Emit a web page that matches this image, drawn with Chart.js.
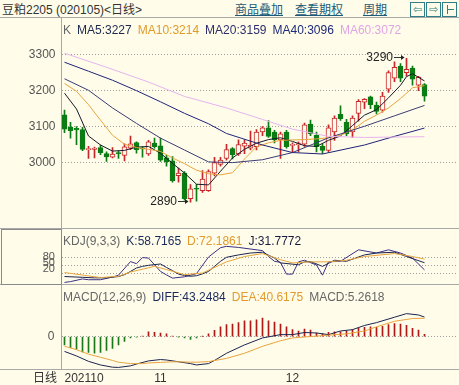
<!DOCTYPE html>
<html>
<head>
<meta charset="utf-8">
<script src="https://cdn.jsdelivr.net/npm/chart.js@4.4.1/dist/chart.umd.min.js"></script>
<style>
    html, body { margin: 0; padding: 0; }
    body {
        width: 459px; height: 385px; position: relative; overflow: hidden;
        background: #fffdea; color: #333;
        font-family: "Liberation Sans", Arial, "Noto Sans CJK SC", sans-serif; font-size: 12px;
    }
    .pane { position: absolute; left: 0; width: 459px; }
    .hl { position: absolute; left: 0; width: 459px; height: 1px; background: #a8a8a8; }
    .vl { position: absolute; width: 1px; background: #a8a8a8; }
    .txt { position: absolute; white-space: nowrap; line-height: 14px; }
    .leg span { margin-right: 6px; }
    .lnk { position: absolute; top: 3px; color: #1d5b78; text-decoration: underline; line-height: 14px; }
    .ico { position: absolute; top: 2px; width: 13px; height: 13px; border: 1px solid #2f7f86; color: #2f7f86;
           font: 11px "DejaVu Sans", sans-serif; line-height: 13px; text-align: center; overflow: hidden; }
</style>
</head>
<body>

<!-- barra de título -->
<div class="txt" style="left:2px; top:3px;">豆粕2205 (020105)&lt;日线&gt;</div>
<div class="lnk" style="left:235px;">商品叠加</div>
<div class="lnk" style="left:295px;">查看期权</div>
<div class="lnk" style="left:363px;">周期</div>
<div class="ico" style="left:410px;">⇦</div>
<div class="ico" style="left:426px;">⇨</div>
<div class="ico" style="left:442px;"><div style="position:absolute;left:4px;top:2px;width:1px;height:9px;background:#2f7f86"></div><div style="position:absolute;left:5px;top:6px;width:6px;height:1px;background:#2f7f86"></div></div>

<!-- paneles -->
<div class="pane" style="top:17px; height:211px;"><canvas id="cMain"></canvas></div>
<div class="pane" style="top:229px; height:55px;"><canvas id="cKdj"></canvas></div>
<div class="pane" style="top:285px; height:100px;"><canvas id="cMacd"></canvas></div>

<!-- marcos -->
<div class="hl" style="top:17px;"></div>
<div class="hl" style="top:228px;"></div>
<div class="hl" style="top:284px;"></div>
<div class="hl" style="top:369px;"></div>
<div class="vl" style="left:61px; top:17px; height:352px;"></div>
<div style="position:absolute; left:1px; top:229px; width:59px; height:54px; border:1px solid #8a8a8a;"></div>

<!-- leyendas -->
<div class="txt leg" style="left:63px; top:23px;">
    <span style="color:#666">K</span><span style="color:#1b2a4e">MA5:3227</span><span style="color:#e39a2c">MA10:3214</span><span style="color:#2e2e6e">MA20:3159</span><span style="color:#1f2a7a">MA40:3096</span><span style="color:#e0a4e6">MA60:3072</span>
</div>
<div class="txt leg" style="left:63px; top:234px;">
    <span style="color:#666">KDJ(9,3,3)</span><span style="color:#1b2a5e">K:58.7165</span><span style="color:#e39a2c">D:72.1861</span><span style="color:#1a1a40">J:31.7772</span>
</div>
<div class="txt leg" style="left:63px; top:290px;">
    <span style="color:#666">MACD(12,26,9)</span><span style="color:#1b2a5e">DIFF:43.2484</span><span style="color:#e39a2c">DEA:40.6175</span><span style="color:#666">MACD:5.2618</span>
</div>
<div class="txt" style="right:404px; top:249px; color:#555; font-size:11px;">80</div>
<div class="txt" style="right:404px; top:255px; color:#555; font-size:11px;">50</div>
<div class="txt" style="right:404px; top:261px; color:#555; font-size:11px;">20</div>
<div class="txt" style="left:33px; top:371px; color:#333;">日线</div>

<script>
// ─────────────────────────────────────────────
//  Datos (m2205, diario)
// ─────────────────────────────────────────────
const dates = [
    '2021-10-08','2021-10-11','2021-10-12','2021-10-13','2021-10-14','2021-10-15','2021-10-18','2021-10-19',
    '2021-10-20','2021-10-21','2021-10-22','2021-10-25','2021-10-26','2021-10-27','2021-10-28','2021-10-29',
    '2021-11-01','2021-11-02','2021-11-03','2021-11-04','2021-11-05','2021-11-08','2021-11-09','2021-11-10',
    '2021-11-11','2021-11-12','2021-11-15','2021-11-16','2021-11-17','2021-11-18','2021-11-19','2021-11-22',
    '2021-11-23','2021-11-24','2021-11-25','2021-11-26','2021-11-29','2021-11-30','2021-12-01','2021-12-02',
    '2021-12-03','2021-12-06','2021-12-07','2021-12-08','2021-12-09','2021-12-10','2021-12-13','2021-12-14',
    '2021-12-15','2021-12-16','2021-12-17','2021-12-20','2021-12-21','2021-12-22','2021-12-23','2021-12-24',
    '2021-12-27','2021-12-28','2021-12-29','2021-12-30','2021-12-31'
];
const emptySlots = 5;   // espacio libre a la derecha

const open  = [3133,3099,3095,3092,3036,3037,3042,3025,3015,3027,3020,3040,3056,3040,3024,3054,
               3047,3013,3005,2964,2971,2900,2928,2922,2922,2971,2995,3012,3039,3024,3046,3040,
               3044,3085,3097,3085,3063,3085,3048,3050,3051,3107,3076,3046,3034,3085,3134,3112,
               3085,3137,3168,3183,3160,3146,3204,3235,3268,3250,3263,3215,3217];
const high  = [3146,3112,3100,3098,3045,3043,3049,3030,3042,3032,3052,3074,3058,3044,3062,3068,
               3068,3020,3017,2985,2975,2939,2940,2978,2980,3015,3015,3051,3042,3063,3063,3088,
               3092,3100,3117,3090,3085,3090,3055,3058,3110,3118,3085,3052,3105,3130,3158,3120,
               3130,3175,3178,3185,3168,3195,3255,3280,3275,3290,3268,3240,3220];
const low   = [3083,3068,3050,3033,3012,3013,3022,3003,3013,3012,3005,3036,3026,3015,3020,3040,
               3003,2990,2946,2946,2896,2890,2893,2917,2920,2963,2990,3007,3010,3020,3025,3035,
               3035,3075,3070,3055,3012,3040,3030,3030,3045,3075,3030,3025,3030,3062,3117,3075,
               3070,3115,3150,3150,3135,3140,3195,3225,3225,3240,3215,3200,3171];
const close = [3093,3089,3091,3037,3039,3040,3028,3016,3024,3025,3044,3052,3036,3038,3058,3044,
               3007,3002,2950,2971,2900,2927,2926,2954,2975,3000,3007,3036,3022,3050,3054,3049,
               3085,3097,3073,3063,3080,3044,3050,3052,3105,3080,3044,3034,3097,3124,3122,3080,
               3124,3170,3176,3161,3142,3185,3250,3265,3235,3259,3232,3237,3185];

// medias móviles: [índice de vela, valor]
const ma5Pts  = [[0,3193],[2,3149],[4,3074],[6,3049],[8,3032],[10,3034],[12,3043],[14,3045],[16,3026],
                 [18,2998],[20,2971],[22,2940],[24,2938],[26,2976],[28,3013],[30,3037],[32,3054],[34,3064],
                 [36,3069],[38,3059],[40,3047],[42,3045],[44,3062],[46,3074],[48,3103],[50,3132],[52,3147],
                 [54,3180],[56,3215],[57,3239],[58,3247],[60,3227]];
const ma10Pts = [[0,3220],[2,3198],[4,3161],[6,3118],[8,3076],[10,3051],[12,3042],[14,3037],[16,3031],
                 [18,3013],[20,2997],[22,2979],[24,2969],[26,2966],[28,2972],[30,3010],[32,3044],[34,3055],
                 [36,3062],[38,3063],[40,3064],[42,3066],[44,3069],[46,3076],[48,3091],[50,3115],[52,3132],
                 [54,3152],[56,3178],[58,3208],[60,3214]];
const ma20Pts = [[0,3233],[4,3201],[8,3152],[12,3109],[16,3068],[20,3035],[24,3002],[28,3000],[33,3008],
                 [38,3028],[44,3069],[50,3101],[55,3130],[60,3159]];
const ma40Pts = [[0,3279],[4,3254],[8,3229],[12,3200],[16,3169],[20,3137],[24,3108],[27,3081],[33,3049],
                 [38,3028],[43,3024],[50,3049],[55,3073],[60,3096]];
const ma60Pts = [[0,3304],[7,3265],[14,3224],[20,3184],[27,3152],[33,3120],[38,3093],[44,3073],[50,3070],
                 [60,3072]];

// KDJ(9,3,3)
const kPts = [[0,7],[3,4],[5,2],[7,2],[9,7],[10,14],[11,26],[12,39],[13,45],[14,49],[16,54],[17,41],[18,29],
              [19,16],[20,11],[21,8],[22,10],[23,17],[24,26],[25,45],[26,64],[27,79],[29,88],[31,95],[33,98],
              [35,76],[36,58],[39,51],[40,62],[41,63],[43,45],[45,68],[47,64],[50,88],[52,95],[55,98],[57,82],
              [60,58.7]];
const dPts = [[0,22],[6,3],[9,8],[11,24],[15,45],[17,33],[20,14],[23,20],[27,62],[30,82],[33,93],[36,70],
              [38,58],[41,62],[44,62],[47,68],[50,82],[55,93],[58,82],[60,72.2]];
const jPts = [[0,-15],[1,-12],[3,-2],[4,-5],[6,-5],[8,5],[9,12],[11,63],[12,55],[13,78],[14,76],[16,26],
              [17,13],[18,1],[20,6],[22,18],[24,80],[26,115],[27,120],[29,116],[33,104],[34,82],[35,64],
              [36,60],[37,16],[38,16],[39,62],[40,68],[42,50],[43,12],[44,62],[46,64],[49,107],[52,95],
              [54,107],[56,95],[58,76],[60,31.8]];

// MACD(12,26,9)
const diffPts = [[0,-33],[2,-43],[4,-55],[6,-63],[8,-68],[9,-68.5],[11,-65],[12,-61],[14,-54],[16,-51],
                 [17,-52],[19,-56],[21,-60],[22,-63],[24,-60],[25,-53],[27,-37],[30,-18.5],[33,-3],[36,4.3],
                 [38,4.3],[40,9],[42,8],[44,4.3],[46,12.4],[48,15.4],[50,24.7],[52,31],[55,43],[57,51],
                 [59,48],[60,43.25]];
const deaPts  = [[0,-21.6],[2,-29],[4,-39],[6,-46],[8,-53],[9,-57],[11,-60],[13,-60],[14,-58.6],[16,-57.4],
                 [18,-56],[19,-56],[21,-56.7],[22,-57],[24,-55.5],[27,-48.5],[30,-37],[33,-21.6],[36,-9.3],
                 [38,-3],[41,0],[44,3.1],[47,6.2],[50,12.4],[52,21.6],[55,34],[58,40.1],[60,40.6]];
const macdBar = [-18.5,-24.7,-27.8,-34,-35,-37,-35,-31,-26.5,-18.5,-10.5,-3,-1,1,
                 10.5,9.3,8,6.2,1.2,-0.5,-3,-6.2,-3,0.5,6.2,14,21.6,26.5,
                 27.8,30.9,35,35,37,41,35,32,27.8,21.6,15.4,12.4,16.7,14.2,8,6.2,9.3,10.5,10.5,
                 12.4,15.4,18.5,20.4,21.6,20.4,22.8,26.5,29,27.8,24.7,18.5,14.2,5.26];

// ejes
const priceTicks    = [3000, 3100, 3200, 3300];
const kdjTicks      = [20, 50, 80];
const macdTicks     = [0];
const monthTickIdx  = [0, 16, 38];
const monthTickText = ['202110', '11', '12'];

// ─────────────────────────────────────────────
//  Estilos
// ─────────────────────────────────────────────
const BG = '#fffdea';
const UP = '#c8262a';
const DOWN = '#0b7d14';
const GRID = '#a0a0a0';
const FONT = '"Liberation Sans", Arial, sans-serif';

Chart.defaults.font.family = FONT;
Chart.defaults.font.size = 12;
Chart.defaults.animation = false;

const slots = dates.concat(Array(emptySlots).fill(''));
const isUp = close.map((c, i) => c >= open[i]);
const GUTTER = 61.5;
const fixGutter = s => { s.width = GUTTER; };
const setTicks = vals => s => { s.ticks = vals.map(v => ({ value: v })); };

function fromPairs(pairs) {
    const arr = new Array(dates.length).fill(null);
    pairs.forEach(([i, v]) => { arr[i] = v; });
    return arr;
}

function lineSet(pairs, color) {
    return {
        type: 'line', data: fromPairs(pairs), borderColor: color, borderWidth: 1,
        pointRadius: 0, tension: 0, spanGaps: true, order: 0
    };
}

function baseOptions(yMin, yMax, ticks, showLabels) {
    return {
        responsive: true, maintainAspectRatio: false,
        layout: { padding: { left: 0, right: 1.5, top: 0, bottom: 0 } },
        plugins: { legend: { display: false }, tooltip: { enabled: false } },
        scales: {
            x: { display: false, offset: true, grid: { display: false } },
            y: {
                min: yMin, max: yMax, afterFit: fixGutter, afterBuildTicks: setTicks(ticks),
                ticks: { display: showLabels, color: '#555', padding: 6, font: { size: 12 }, callback: v => String(v) },
                grid: { color: GRID, drawTicks: false },
                border: { display: false, dash: [1, 2] }
            }
        }
    };
}

// marca de máximo / mínimo con flecha
const extremos = {
    id: 'extremos',
    afterDatasetsDraw(chart) {
        const { ctx, scales: { x, y } } = chart;
        const iHi = high.indexOf(Math.max(...high));
        const iLo = low.indexOf(Math.min(...low));
        ctx.save();
        ctx.font = '12px ' + FONT;
        ctx.fillStyle = '#222';
        ctx.strokeStyle = '#333';
        ctx.lineWidth = 1;
        ctx.textAlign = 'right';
        ctx.textBaseline = 'middle';
        [[iHi, high[iHi]], [iLo, low[iLo]]].forEach(([i, v]) => {
            const px = Math.floor(x.getPixelForValue(i));
            const py = Math.round(y.getPixelForValue(v)) - 0.5;
            const x1 = px - 12, x2 = px - 2;
            ctx.beginPath(); ctx.moveTo(x1, py); ctx.lineTo(x2, py); ctx.stroke();
            ctx.beginPath(); ctx.moveTo(x2 + 0.5, py); ctx.lineTo(x2 - 3, py - 2.5); ctx.lineTo(x2 - 3, py + 2.5);
            ctx.closePath(); ctx.fill();
            ctx.fillText(String(v), x1 - 1, py + 0.5);
        });
        ctx.restore();
    }
};

// ─────────────────────────────────────────────
//  Panel principal: velas + medias
// ─────────────────────────────────────────────
new Chart(document.getElementById('cMain'), {
    type: 'bar',
    data: {
        labels: slots,
        datasets: [
            lineSet(ma60Pts, '#e6b2ee'),
            lineSet(ma40Pts, '#1f2378'),
            lineSet(ma20Pts, '#3a3a74'),
            lineSet(ma10Pts, '#e8a43c'),
            lineSet(ma5Pts,  '#141828'),
            {
                data: open.map((o, i) => [o, close[i]]),
                barThickness: 5, minBarLength: 1, borderWidth: 1, borderSkipped: false,
                borderColor: isUp.map(u => u ? UP : DOWN),
                backgroundColor: isUp.map(u => u ? BG : DOWN),
                grouped: false, order: 2
            },
            {
                data: low.map((l, i) => [l, high[i]]),
                barThickness: 1, borderWidth: 0,
                backgroundColor: isUp.map(u => u ? UP : DOWN),
                grouped: false, order: 3
            }
        ]
    },
    options: baseOptions(2855, 3368, priceTicks, true),
    plugins: [extremos]
});

// ─────────────────────────────────────────────
//  KDJ
// ─────────────────────────────────────────────
new Chart(document.getElementById('cKdj'), {
    type: 'line',
    data: {
        labels: slots,
        datasets: [
            lineSet(dPts, '#e8a43c'),
            lineSet(kPts, '#1c2350'),
            lineSet(jPts, '#3b2f86')
        ]
    },
    options: baseOptions(-21, 185, kdjTicks, false)
});

// ─────────────────────────────────────────────
//  MACD + eje de fechas
// ─────────────────────────────────────────────
const macdOpts = baseOptions(-72, 83, macdTicks, true);
macdOpts.scales.y.ticks.padding = 7;
macdOpts.scales.x = {
    display: true, offset: true, position: 'bottom',
    grid: { display: false, drawTicks: false }, border: { display: false },
    afterFit: s => { s.height = 16; },
    ticks: {
        autoSkip: false, maxRotation: 0, align: 'inner', padding: 2, color: '#333',
        callback: (v, i) => {
            const k = monthTickIdx.indexOf(i);
            return k >= 0 ? monthTickText[k] : '';
        }
    }
};

new Chart(document.getElementById('cMacd'), {
    type: 'bar',
    data: {
        labels: slots,
        datasets: [
            lineSet(deaPts, '#e8a43c'),
            lineSet(diffPts, '#1c2350'),
            {
                data: macdBar, barThickness: 1, borderWidth: 0,
                backgroundColor: macdBar.map(v => v >= 0 ? '#b01818' : '#1a7a1a'),
                order: 2
            }
        ]
    },
    options: macdOpts
});
</script>
</body>
</html>
